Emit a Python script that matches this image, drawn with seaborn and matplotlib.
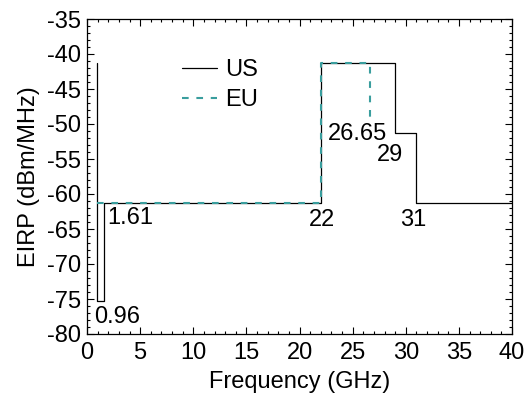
import matplotlib
matplotlib.use("Agg")
import matplotlib.pyplot as plt
from matplotlib.ticker import MultipleLocator
import seaborn as sns
import pandas as pd

# Data
us_freq = [0.96, 0.96, 1.61, 22, 29, 31, 40]
us_eirp = [-41.3, -75.3, -61.3, -41.3, -51.3, -61.3, -61.3]
eu_freq = [0.96, 22, 26.65]
eu_eirp = [-61.3, -41.3, -49.0]
ann_text = ["0.96", "1.61", "22", "26.65", "29", "31"]
ann_x = [2.87, 4.09, 22.12, 25.5, 28.52, 30.73]
ann_y = [-77.6, -63.5, -63.7, -51.4, -54.4, -63.7]

sns.set_style("ticks")
plt.rcParams['font.family'] = ['Liberation Sans', 'DejaVu Sans']
plt.rcParams['font.size'] = 17
plt.rcParams['axes.unicode_minus'] = False
plt.rcParams['text.color'] = 'black'
plt.rcParams['axes.labelcolor'] = 'black'
plt.rcParams['xtick.color'] = 'black'
plt.rcParams['ytick.color'] = 'black'

us_df = pd.DataFrame({"f": us_freq, "p": us_eirp})
eu_df = pd.DataFrame({"f": eu_freq, "p": eu_eirp})

fig = plt.figure(figsize=(5.25, 3.99), dpi=100)
ax = fig.add_axes([87/525, 1-334/399, 425/525, 315/399])

sns.lineplot(data=us_df, x="f", y="p", ax=ax, sort=False, estimator=None,
             color="black", lw=0.9, drawstyle="steps-post", label="US", zorder=2)
sns.lineplot(data=eu_df, x="f", y="p", ax=ax, sort=False, estimator=None,
             color="#3a9e9e", lw=1.5, drawstyle="steps-post", label="EU",
             dashes=False, zorder=3)
ax.lines[1].set_dashes((3.2, 3.7))

for t, x, y in zip(ann_text, ann_x, ann_y):
    ax.text(x, y, t, ha="center", va="center", fontsize=17, color="black")

ax.set_xlim(0, 40)
ax.set_ylim(-80, -35)
ax.xaxis.set_major_locator(MultipleLocator(5))
ax.xaxis.set_minor_locator(MultipleLocator(1))
ax.yaxis.set_major_locator(MultipleLocator(5))
ax.yaxis.set_minor_locator(MultipleLocator(1))
ax.tick_params(which="both", direction="in", top=True, right=True,
               labelsize=17, color="black", labelcolor="black", width=0.8)
ax.tick_params(which="major", length=5)
ax.tick_params(axis="x", which="major", pad=6)
ax.tick_params(axis="y", which="major", pad=4)
ax.tick_params(which="minor", length=2.5)
for s in ax.spines.values():
    s.set_color("black")
    s.set_linewidth(0.9)

ax.set_xlabel("Frequency (GHz)", fontsize=17, labelpad=5, color="black")
ax.set_ylabel("EIRP (dBm/MHz)", fontsize=17, labelpad=5.5, color="black")

leg = ax.legend(loc="upper left", bbox_to_anchor=(0.201, 0.902), frameon=False,
                borderaxespad=0, handlelength=1.5, handletextpad=0.34,
                labelspacing=0.32, fontsize=17)
for txt in leg.get_texts():
    txt.set_color("black")
leg.legend_handles[1].set_dashes((3.2, 3.7))

fig.savefig("out.png", dpi=100)
